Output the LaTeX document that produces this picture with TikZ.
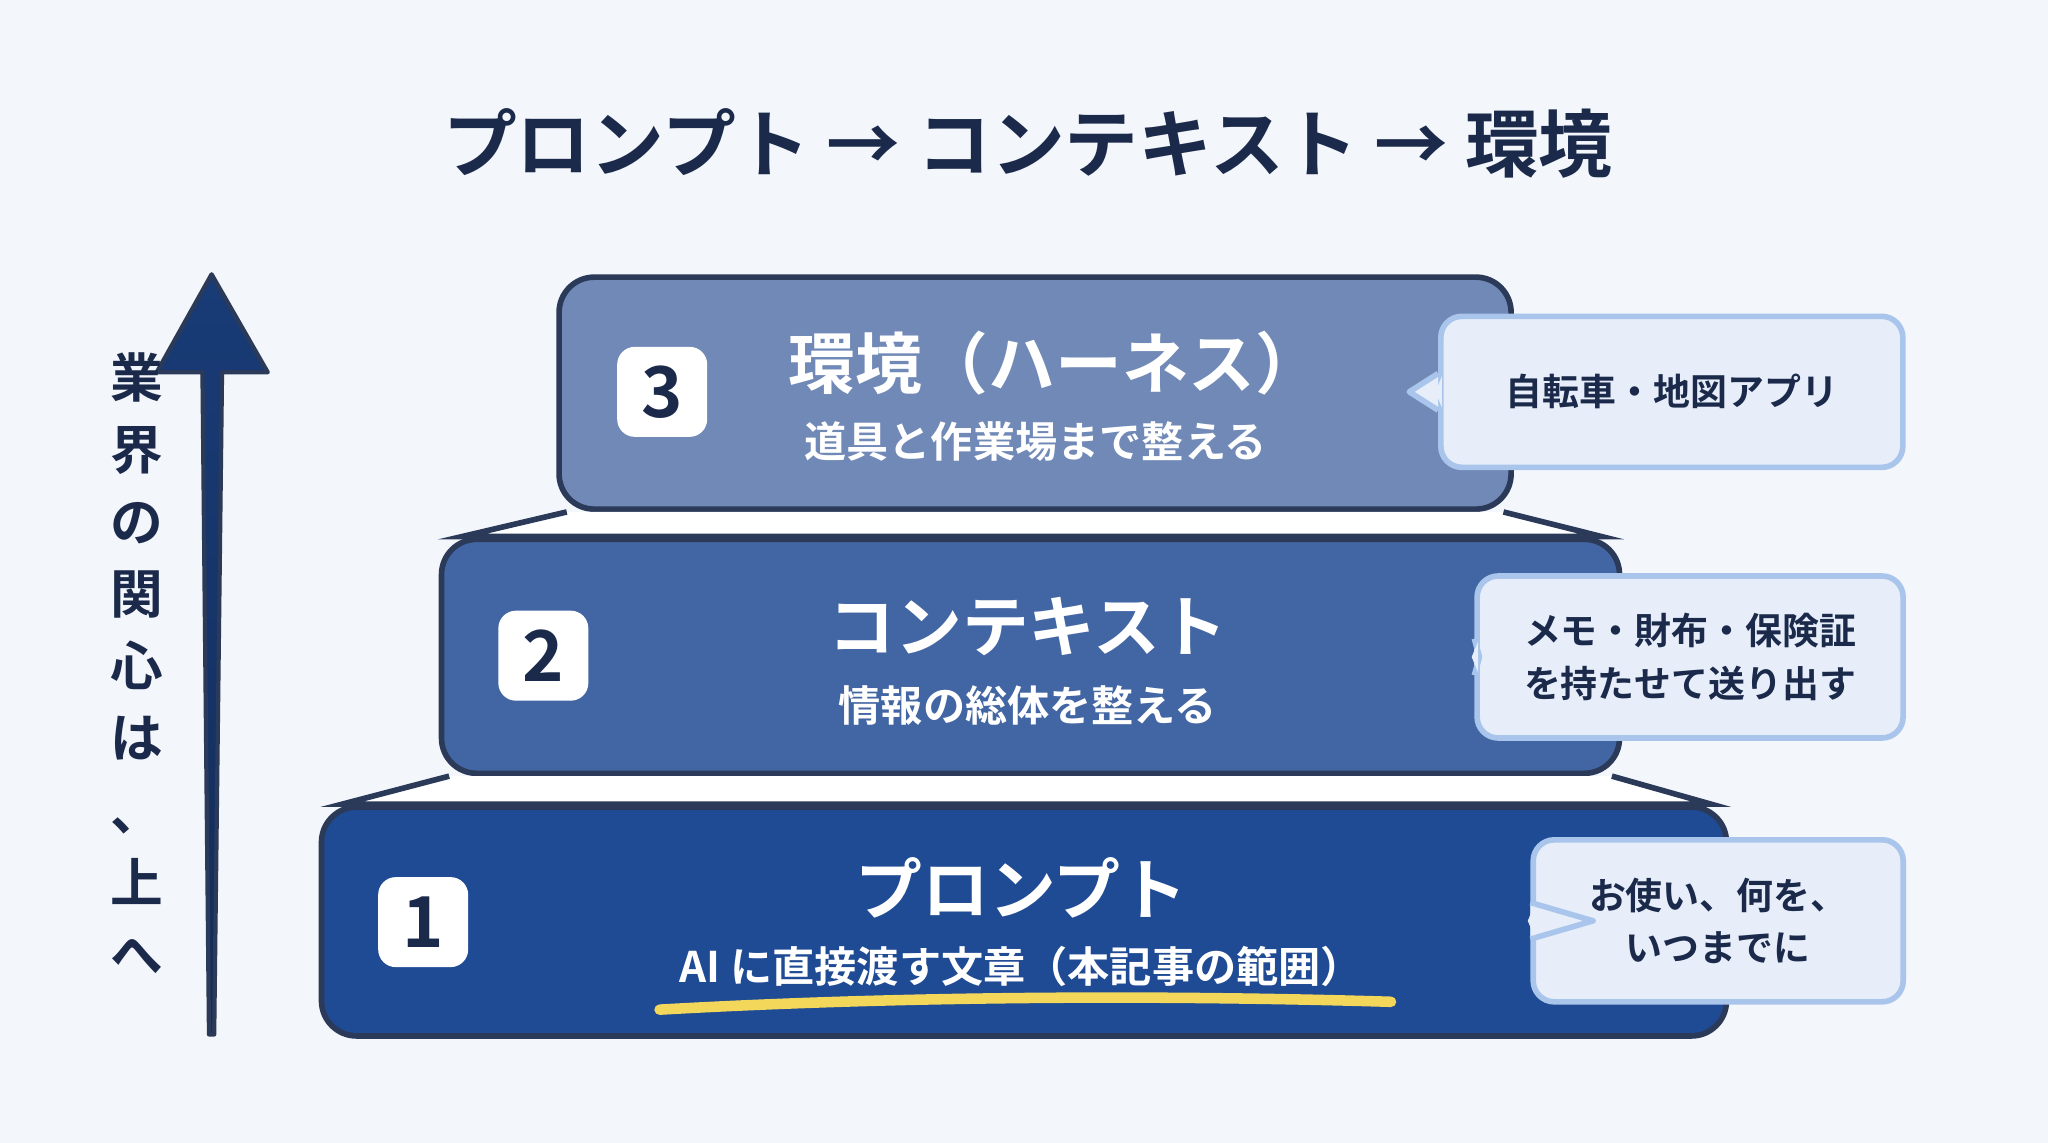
\documentclass[tikz,border=0pt]{standalone}
\usepackage{fontspec}
\setmainfont{Noto Sans CJK JP}[BoldFont={Noto Sans CJK JP Bold}]
\usetikzlibrary{calc,positioning,shadings}
\definecolor{Navy}{HTML}{1B2A4A}
\definecolor{LayerA}{HTML}{1F4A94}
\definecolor{LayerB}{HTML}{4266A3}
\definecolor{LayerC}{HTML}{7189B6}
\definecolor{Edge}{HTML}{2B3A58}
\definecolor{BubbleFill}{HTML}{E7EEFA}
\definecolor{BubbleLine}{HTML}{A9C5EC}
\definecolor{Marker}{HTML}{F3D75A}
\definecolor{Paper}{HTML}{F3F6FB}
\tikzset{
  layer/.style={draw=Edge, line width=1.6pt, rounded corners=10pt},
  numbox/.style={fill=white, rounded corners=5pt, minimum size=0.9cm, text=Navy, font=\fontsize{20}{20}\selectfont\bfseries},
  ltitle/.style={text=white, font=\fontsize{19}{22}\selectfont\bfseries},
  lsub/.style={text=white, font=\fontsize{12}{14}\selectfont\bfseries},
  bubble/.style={draw=BubbleLine, fill=BubbleFill, line width=1.6pt, rounded corners=6pt, align=center, text=Navy, font=\fontsize{10.5}{15}\selectfont\bfseries},
}
\begin{document}
\begin{tikzpicture}[x=0.01306cm, y=-0.01306cm]
  \fill[Paper] (0,0) rectangle (1568,875);
  \useasboundingbox (0,0) rectangle (1568,875);
  % Title
  \node[text=Navy, font=\fontsize{21}{24}\selectfont\bfseries] (title) at (787,110) {プロンプト → コンテキスト → 環境};
  % Layers
  \node[layer, fill=LayerA, minimum width=14.05cm, minimum height=2.29cm] (l1) at (784,705.5) {};
  \node[layer, fill=LayerB, minimum width=11.78cm, minimum height=2.34cm] (l2) at (789,502.5) {};
  \node[layer, fill=LayerC, minimum width=9.52cm, minimum height=2.32cm] (l3) at (792.5,301) {};
  % Steps between layers
  \filldraw[fill=white, draw=Edge, line width=1.6pt] ($(l3.south west)+(8,0)$) -- ($(l2.north west)+(18,0)$) -- ($(l2.north east)+(-16,0)$) -- ($(l3.south east)+(-8,0)$);
  \filldraw[fill=white, draw=Edge, line width=1.6pt] ($(l2.south west)+(8,0)$) -- ($(l1.north west)+(18,0)$) -- ($(l1.north east)+(-14,0)$) -- ($(l2.south east)+(-8,0)$);
  % Numbers
  \node[numbox] (n3) at (507,300) {3};
  \node[numbox] (n2) at (416,502) {2};
  \node[numbox] (n1) at (324,706) {1};
  % Layer texts
  \node[ltitle] (t3) at (808,278) {環境（ハーネス）};
  \node[lsub] (s3) at (793,338) {道具と作業場まで整える};
  \node[ltitle] (t2) at (787,480) {コンテキスト};
  \node[lsub] (s2) at (787,540) {情報の総体を整える};
  \node[ltitle] (t1) at (782,680) {プロンプト};
  \node[lsub] (s1) at (782,740) {AI に直接渡す文章（本記事の範囲）};
  \draw[Marker, line width=3pt, line cap=round] (505,773) .. controls (700,762) and (900,762) .. (1065,767);
  % Callouts
  \node[bubble, minimum width=4.62cm, minimum height=1.51cm] (c3) at (1280,300) {自転車・地図アプリ};
  \node[bubble, minimum width=4.26cm, minimum height=1.62cm] (c2) at (1294,503) {メモ・財布・保険証\\を持たせて送り出す};
  \node[bubble, minimum width=3.70cm, minimum height=1.62cm] (c1) at (1315.5,705) {お使い、何を、\\いつまでに};
  \foreach \c/\tip in {c3/1082, c2/1108, c1/1152} {
    \filldraw[draw=BubbleLine, fill=BubbleFill, line width=1.6pt, line join=round]
      ($(\c.west)+(0,-14)$) -- ($(\c.west)+({\tip-1104},0)$) -- ($(\c.west)+(0,14)$);
    \fill[BubbleFill] ($(\c.west)+(3,-12)$) -- ($(\c.west)+(-2,0)$) -- ($(\c.west)+(3,12)$) -- cycle;
  }
  % Up arrow
  \coordinate (abot) at (162,792);
  \coordinate (atip) at (162,210);
  \shade[top color=LayerA!80!black, bottom color=LayerA!60!black, draw=Edge, line width=1.2pt, line join=round]
    ($(abot)+(-2,0)$) -- ($(abot)+(-7,-507)$) -- ($(abot)+(-42,-507)$) -- (atip) -- ($(abot)+(43,-507)$) -- ($(abot)+(8,-507)$) -- ($(abot)+(2,0)$) -- cycle;
  \node[text=Navy, font=\fontsize{15}{20.5}\selectfont\bfseries, align=center] (vlabel) at (105,508) {業\\界\\の\\関\\心\\は\\、\\上\\へ};
\end{tikzpicture}
\end{document}
